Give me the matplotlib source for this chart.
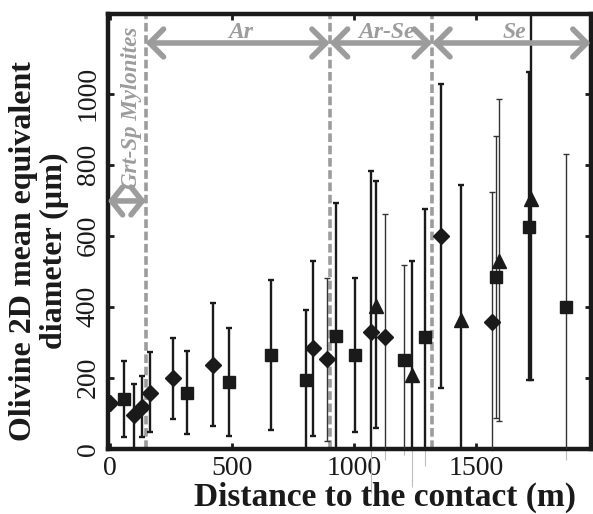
import matplotlib
matplotlib.use("Agg")
import matplotlib.pyplot as plt
import numpy as np

# Olivine grain size vs distance to the contact
# values (x in m, y in micrometres)

# diamonds
dia_x = [0, 99, 129, 163, 255, 420, 833, 890, 1069, 1128, 1355, 1567]
dia_y = [128, 95, 118, 158, 200, 237, 283, 252, 328, 316, 599, 357]
dia_lo = [128, 0, 32, 46, 85, 64, 36, 22, -125, -31, 170, -7]
dia_hi = [128, 182, 204, 273, 313, 411, 528, 481, 781, 661, 1028, 722]

# squares
sq_x = [54, 313, 485, 660, 803, 926, 1003, 1204, 1290, 1580, 1719, 1867]
sq_y = [140, 158, 189, 265, 195, 318, 265, 251, 316, 483, 626, 399]
sq_lo = [32, 42, 37, 53, 0, 0, 48, -17, -49, 86, 193, -31]
sq_hi = [246, 274, 340, 476, 391, 691, 481, 518, 675, 882, 1062, 831]

# triangles
tri_x = [1091, 1238, 1439, 1595, 1726]
tri_y = [403, 209, 364, 530, 703]
tri_lo = [57, -108, 0, 78, 193]
tri_hi = [753, 529, 743, 986, 1260]

# boundaries between zones (m) and zone names
bounds = [145, 900, 1320]
zones = ["Ar", "Ar-Se", "Se"]
zone_text_x = [536, 1132, 1657]
mylonite_label = "Grt-Sp Mylonites"

xticks = [0, 500, 1000, 1500]
yticks = [0, 200, 400, 600, 800, 1000]

# which bars are drawn thin (index per series)
thin_dia = [7, 9, 11]
thin_sq = [7, 9, 11]
thin_tri = [3]

plt.rcParams['font.family'] = ['Liberation Serif', 'DejaVu Serif']

fig = plt.figure(figsize=(5.93, 5.14), dpi=100)
ax = fig.add_axes([0.182, 0.127, 0.814, 0.846])

xmin, xmax = -10, 1970
ax.set_xlim(xmin, xmax)
ax.set_ylim(0, 1225)

grey = '#9c9c9c'

# dashed zone boundaries
for b in bounds:
    ax.axvline(b, color=grey, lw=2.6, ls=(0, (2.4, 1.0)), zorder=1)


def draw_series(xs, ys, los, his, marker, ms, thin):
    for i, (x, y, lo, hi) in enumerate(zip(xs, ys, los, his)):
        is_thin = i in thin
        lw = 1.0 if is_thin else 1.7
        col = '#333333' if is_thin else '#1a1a1a'
        yerr = [[y - lo], [hi - y]]
        ax.errorbar([x], [y], yerr=yerr, fmt='none', ecolor=col,
                    elinewidth=lw, capsize=2, capthick=lw, zorder=3)
        if lo < 0:
            # part of the bar that runs below the axis
            ax.vlines(x, lo, 0, colors='#bdbdbd', lw=0.8, clip_on=False,
                      zorder=2)
    ax.plot(xs, ys, ls='none', marker=marker, ms=ms, color='#1a1a1a',
            zorder=4)


draw_series(dia_x, dia_y, dia_lo, dia_hi, 'D', 8, thin_dia)
draw_series(sq_x, sq_y, sq_lo, sq_hi, 's', 9, thin_sq)
draw_series(tri_x, tri_y, tri_lo, tri_hi, '^', 10, thin_tri)

# zone arrows
arrow_y = 1143
ends = [bounds[0], bounds[1], bounds[2], xmax]
for k, name in enumerate(zones):
    ax.annotate('', xy=(ends[k + 1], arrow_y), xytext=(ends[k], arrow_y),
                arrowprops=dict(arrowstyle='<->,head_length=0.5,head_width=0.5',
                                color=grey, lw=4, shrinkA=0, shrinkB=0,
                                mutation_scale=20),
                zorder=5)
    ax.text(zone_text_x[k], 1156, name, color=grey, fontsize=17,
            fontweight='bold', fontstyle='italic', ha='center',
            va='baseline', zorder=6)

ax.annotate('', xy=(bounds[0], 698), xytext=(xmin, 698),
            arrowprops=dict(arrowstyle='<->,head_length=0.4,head_width=0.5',
                            color=grey, lw=4, shrinkA=0, shrinkB=0,
                            mutation_scale=20),
            annotation_clip=False, zorder=5)
ax.text(88, 960, mylonite_label, color=grey, fontsize=16.5, fontweight='bold',
        fontstyle='italic', rotation=90, ha='center', va='center', zorder=6)

# axes styling
for s in ax.spines.values():
    s.set_linewidth(3.2)
    s.set_color('#1a1a1a')

ax.set_xticks(xticks)
ax.set_yticks(yticks)
ax.tick_params(direction='in', length=4, width=2, top=True, right=True,
               labelsize=20, pad=5, colors='#1a1a1a')
for lab in ax.get_yticklabels():
    lab.set_rotation(90)
    lab.set_va('center')

fig.text(0.650, 0.033, 'Distance to the contact (m)', fontsize=24,
         fontweight='bold', ha='center', va='center', color='#1a1a1a')
fig.text(0.066, 0.512, 'Olivine 2D mean equivalent\ndiameter (\u00b5m)',
         fontsize=23, fontweight='bold', ha='center', va='center',
         rotation=90, multialignment='center', linespacing=1.1,
         color='#1a1a1a')

fig.savefig('out.png', dpi=100)
